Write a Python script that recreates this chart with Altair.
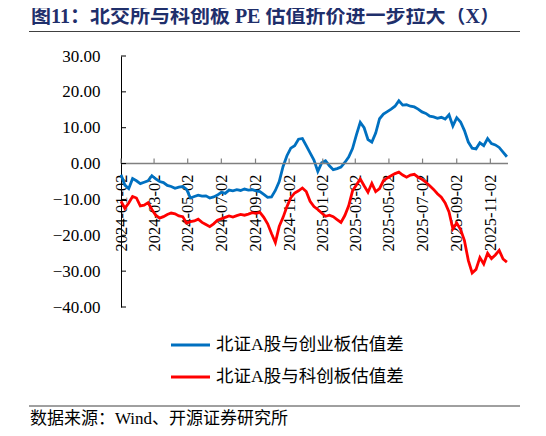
import altair as alt
import pandas as pd

TITLE = "图11：北交所与科创板 PE 估值折价进一步拉大（X）"
SOURCE = "数据来源：Wind、开源证券研究所"
SERIES = ["北证A股与创业板估值差", "北证A股与科创板估值差"]
COLORS = ["#0070C0", "#FF0000"]
GRAY = "#808080"
SERIF = "Liberation Serif, Noto Sans CJK SC"

# weekly observations starting 2024-01-02
DATES = pd.date_range("2024-01-02", periods=101, freq="7D").strftime("%Y-%m-%d").tolist()

CYB_GAP = [
    -3.1, -6.0, -7.0, -4.2, -4.8, -5.6, -5.2, -4.8, -3.4, -4.3,
    -5.0, -5.3, -6.1, -6.4, -6.9, -6.6, -6.4, -7.2, -9.6, -9.2,
    -8.8, -9.1, -9.0, -9.6, -9.3, -8.8, -8.0, -8.3, -7.4, -7.6,
    -7.3, -7.5, -7.1, -7.4, -7.3, -7.6, -7.8, -8.6, -9.4, -9.3,
    -7.5, -5.0, -0.8, 2.2, 4.3, 5.0, 6.8, 7.0, 5.0, 3.0,
    1.0, -2.2, 0.2, 0.8, -0.6, -1.7, -1.4, -1.0, 0.3, 1.8,
    4.2, 8.0, 11.5, 10.0, 6.7, 6.0, 8.5, 12.5, 13.8, 14.5,
    15.2, 16.0, 17.5, 16.3, 16.4, 16.0, 15.8, 15.2, 14.4, 14.0,
    13.2, 13.0, 12.6, 12.9, 12.4, 13.6, 10.5, 12.8, 11.6, 9.2,
    6.0, 4.3, 4.1, 5.8, 5.0, 7.0, 5.6, 5.2, 4.5, 3.2,
    1.9,
]

KCB_GAP = [
    -10.5, -12.5, -11.0, -9.2, -9.6, -11.8, -11.6, -10.9, -12.8, -14.4,
    -15.2, -14.8, -14.2, -13.8, -14.0, -14.6, -14.8, -16.6, -16.2, -16.0,
    -15.5, -16.4, -17.0, -17.6, -16.8, -15.8, -15.4, -15.0, -14.6, -14.9,
    -14.5, -14.2, -14.4, -14.1, -13.7, -13.9, -13.6, -15.0, -16.8, -19.5,
    -22.0, -17.5, -15.0, -12.0, -9.5, -8.2, -7.6, -6.8, -7.8, -10.5,
    -12.0, -12.8, -13.8, -14.7, -14.4, -14.8, -15.6, -16.4, -14.5, -11.8,
    -7.6, -6.0, -4.3, -6.2, -8.0, -5.5, -7.8, -7.0, -4.8, -4.0,
    -3.4, -2.8, -2.4, -3.2, -3.8, -3.2, -3.0, -3.8, -4.4, -5.2,
    -6.2, -7.2, -8.4, -9.4, -11.0, -13.5, -18.2, -16.6, -18.4, -21.5,
    -27.0, -30.5, -29.5, -26.2, -28.0, -25.0, -26.5, -25.5, -24.2, -26.6,
    -27.5,
]

Y_TICKS = [30, 20, 10, 0, -10, -20, -30, -40]
X_TICKS = [
    "2024-01-02", "2024-03-02", "2024-05-02", "2024-07-02", "2024-09-02", "2024-11-02",
    "2025-01-02", "2025-03-02", "2025-05-02", "2025-07-02", "2025-09-02", "2025-11-02",
]
X_END = "2025-12-04"


def utc_date(s):
    y, m, d = (int(p) for p in s.split("-"))
    return alt.DateTime(year=y, month=m, date=d, utc=True)


X_SCALE = alt.Scale(type="utc", domain=[utc_date(X_TICKS[0]), utc_date(X_END)])
Y_SCALE = alt.Scale(domain=[-40, 30], nice=False, zero=False)

X_AXIS = alt.Axis(
    title=None,
    values=[utc_date(t) for t in X_TICKS],
    labelExpr="utcFormat(datum.value, '%Y-%m-%d')",
    labelAngle=270,
    labelFont=SERIF,
    labelFontSize=16.5,
    labelColor="black",
    labelPadding=10,
    labelOverlap=False,
    labelFlush=False,
    offset=-143,
    domain=False,
    ticks=False,
    grid=False,
)
Y_AXIS = alt.Axis(
    title=None,
    values=Y_TICKS,
    format=".2f",
    labelFont=SERIF,
    labelFontSize=17,
    labelColor="black",
    labelPadding=21,
    labelOverlap=False,
    labelFlush=False,
    ticks=False,
    grid=False,
    domainColor="black",
    domainWidth=1,
)

df = pd.DataFrame({
    "date": DATES * 2,
    "value": CYB_GAP + KCB_GAP,
    "series": [SERIES[0]] * len(DATES) + [SERIES[1]] * len(DATES),
})

lines = alt.Chart(df).mark_line(strokeWidth=2.8, clip=False).encode(
    x=alt.X("date:T", scale=X_SCALE, axis=X_AXIS),
    y=alt.Y("value:Q", scale=Y_SCALE, axis=Y_AXIS),
    color=alt.Color("series:N", scale=alt.Scale(domain=SERIES, range=COLORS), legend=None),
    detail="series:N",
)

zero_line = alt.Chart(pd.DataFrame({"value": [0]})).mark_rule(color=GRAY, strokeWidth=1.6).encode(
    y=alt.Y("value:Q", scale=Y_SCALE, axis=Y_AXIS)
)

x_ticks = alt.Chart(pd.DataFrame({"date": X_TICKS, "value": [0] * len(X_TICKS)})).mark_rule(
    color=GRAY, strokeWidth=1.2, y2Offset=-5
).encode(
    x=alt.X("date:T", scale=X_SCALE, axis=X_AXIS),
    y=alt.Y("value:Q", scale=Y_SCALE, axis=Y_AXIS),
    y2="value:Q",
)

y_ticks = alt.Chart(pd.DataFrame({"value": Y_TICKS})).mark_rule(color="black", strokeWidth=1).encode(
    y=alt.Y("value:Q", scale=Y_SCALE, axis=Y_AXIS),
    x=alt.value(0),
    x2=alt.value(5),
)

# header / footer decoration
title = alt.Chart(pd.DataFrame({"t": [TITLE]})).mark_text(
    align="left", baseline="middle", font=SERIF, fontSize=20, fontWeight="bold", color="#1F2F6B"
).encode(text="t:N", x=alt.value(-90), y=alt.value(-39))

top_rule = alt.Chart(pd.DataFrame({"t": [0]})).mark_rule(color="#404040", strokeWidth=1).encode(
    x=alt.value(-92), x2=alt.value(399), y=alt.value(-24.5)
)

bottom_rule = alt.Chart(pd.DataFrame({"t": [0]})).mark_rule(color="#404040", strokeWidth=1).encode(
    x=alt.value(-92), x2=alt.value(399), y=alt.value(350)
)

source = alt.Chart(pd.DataFrame({"t": [SOURCE]})).mark_text(
    align="left", baseline="middle", font=SERIF, fontSize=17, color="black"
).encode(text="t:N", x=alt.value(-91), y=alt.value(363))

# legend drawn by hand so the rows sit tight like the original
legend_layers = []
for i, (name, col) in enumerate(zip(SERIES, COLORS)):
    ly = 289 + i * 32
    legend_layers.append(
        alt.Chart(pd.DataFrame({"t": [name]})).mark_rule(color=col, strokeWidth=3).encode(
            x=alt.value(50), x2=alt.value(89), y=alt.value(ly)
        )
    )
    legend_layers.append(
        alt.Chart(pd.DataFrame({"t": [name]})).mark_text(
            align="left", baseline="middle", font=SERIF, fontSize=17.5, color="black"
        ).encode(text="t:N", x=alt.value(95), y=alt.value(ly))
    )

chart = alt.layer(
    lines, zero_line, x_ticks, y_ticks, title, top_rule, bottom_rule, source, *legend_layers
).properties(
    width=387,
    height=251,
    autosize=alt.AutoSizeParams(type="none"),
    padding={"left": 113, "top": 48, "right": 30, "bottom": 121},
    background="white",
).configure_view(stroke=None)

chart.save("out.html", embed_options={"renderer": "svg", "actions": False})
